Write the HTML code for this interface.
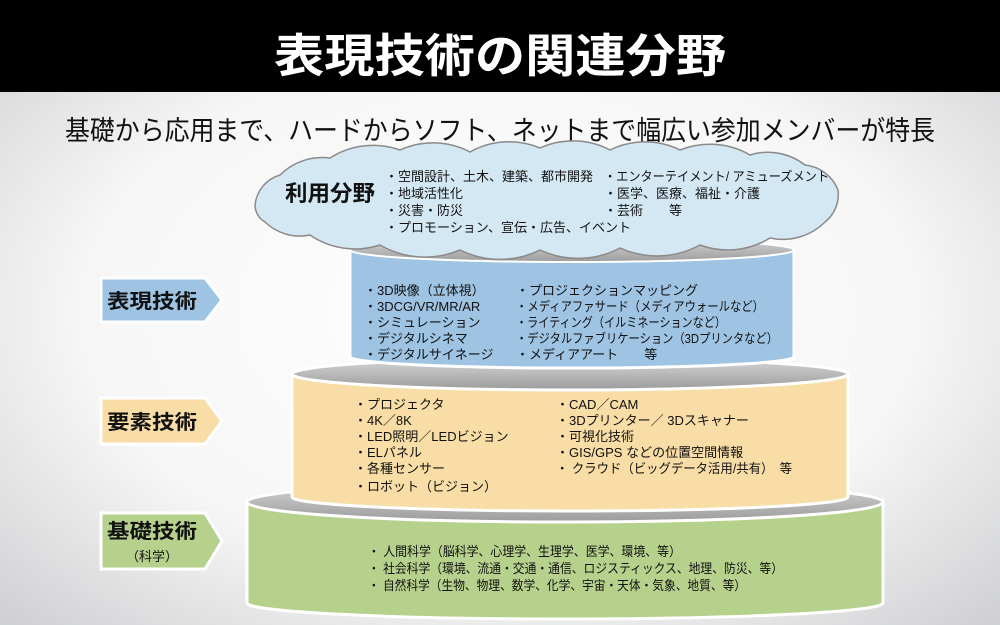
<!DOCTYPE html>
<html><head><meta charset="utf-8"><style>
html,body{margin:0;padding:0;width:1000px;height:625px;overflow:hidden}
svg{display:block}
text{font-family:"Liberation Sans","Noto Sans CJK JP",sans-serif;fill:#111}
</style></head><body>
<svg width="1000" height="625" viewBox="0 0 1000 625" xmlns="http://www.w3.org/2000/svg">
<defs>
<radialGradient id="bg" cx="0.5" cy="0.5" r="0.7">
<stop offset="0" stop-color="#ffffff"/><stop offset="0.6" stop-color="#f6f6f6"/><stop offset="1" stop-color="#cfd0d2"/>
</radialGradient>
<linearGradient id="gr" x1="0" y1="0" x2="0" y2="1"><stop offset="0" stop-color="#d6d6d6"/><stop offset="1" stop-color="#9c9c9c"/></linearGradient>
</defs>
<rect width="1000" height="625" fill="url(#bg)"/>
<rect width="1000" height="92" fill="#000"/>
<text x="500" y="72" text-anchor="middle" font-size="46" font-weight="bold" style="fill:#fff" textLength="452" lengthAdjust="spacingAndGlyphs">表現技術の関連分野</text>
<text x="500" y="140" text-anchor="middle" font-size="27" textLength="870" lengthAdjust="spacingAndGlyphs">基礎から応用まで、ハードからソフト、ネットまで幅広い参加メンバーが特長</text>

<!-- green tier -->
<path d="M247,500 L247,603 A318,16 0 0 0 883,603 L883,500 Z" fill="#b6d18c" stroke="#fff" stroke-width="3"/>
<ellipse cx="565" cy="502" rx="318" ry="20" fill="url(#gr)" stroke="#fff" stroke-width="3"/>
<!-- orange tier -->
<path d="M292,372 L292,497 A278,14 0 0 0 848,497 L848,372 Z" fill="#f8dda6" stroke="#fff" stroke-width="3"/>
<ellipse cx="570" cy="374" rx="278" ry="16" fill="url(#gr)" stroke="#fff" stroke-width="3"/>
<!-- blue tier -->
<path d="M350,250 L350,357 A222,11 0 0 0 794,357 L794,250 Z" fill="#9fc4e3" stroke="#fff" stroke-width="3"/>
<ellipse cx="572" cy="250" rx="222" ry="12" fill="url(#gr)" stroke="#fff" stroke-width="2"/>
<!-- cloud -->
<path d="M255,205 A35,35 0 0 1 280,175 A60,60 0 0 1 330,158 A80,80 0 0 1 400,150 A80,80 0 0 1 470,152 A80,80 0 0 1 540,148 A80,80 0 0 1 610,150 A80,80 0 0 1 680,150 A80,80 0 0 1 750,155 A60,60 0 0 1 805,165 A40,40 0 0 1 838,190 A35,35 0 0 1 825,222 A60,60 0 0 1 770,238 A80,80 0 0 1 700,245 A90,90 0 0 1 620,248 A90,90 0 0 1 540,250 A90,90 0 0 1 460,250 A90,90 0 0 1 380,245 A80,80 0 0 1 310,235 A50,50 0 0 1 265,222 A20,20 0 0 1 255,205 Z" fill="#d4e8f3" stroke="#8a8a8a" stroke-width="1.5"/>

<text x="285" y="201" font-size="22" font-weight="bold" textLength="90" lengthAdjust="spacingAndGlyphs">利用分野</text>
<g font-size="13">
<text x="385" y="181">・空間設計、土木、建築、都市開発</text>
<text x="385" y="198">・地域活性化</text>
<text x="385" y="215">・災害・防災</text>
<text x="385" y="232">・プロモーション、宣伝・広告、イベント</text>
<text x="604" y="181" textLength="225" lengthAdjust="spacingAndGlyphs">・エンターテイメント/ アミューズメント</text>
<text x="604" y="198">・医学、医療、福祉・介護</text>
<text x="604" y="215">・芸術　　等</text>

<text x="364" y="295">・3D映像（立体視）</text>
<text x="364" y="311">・3DCG/VR/MR/AR</text>
<text x="364" y="327">・シミュレーション</text>
<text x="364" y="343">・デジタルシネマ</text>
<text x="364" y="359">・デジタルサイネージ</text>
<text x="516" y="295">・プロジェクションマッピング</text>
<text x="516" y="311" textLength="248" lengthAdjust="spacingAndGlyphs">・メディアファサード（メディアウォールなど）</text>
<text x="516" y="327" textLength="210" lengthAdjust="spacingAndGlyphs">・ライティング（イルミネーションなど）</text>
<text x="516" y="343" textLength="262" lengthAdjust="spacingAndGlyphs">・デジタルファブリケーション（3Dプリンタなど）</text>
<text x="516" y="359">・メディアアート　　等</text>

<text x="354" y="409">・プロジェクタ</text>
<text x="354" y="425">・4K／8K</text>
<text x="354" y="441">・LED照明／LEDビジョン</text>
<text x="354" y="457">・ELパネル</text>
<text x="354" y="473">・各種センサー</text>
<text x="354" y="491">・ロボット（ビジョン）</text>
<text x="556" y="409">・CAD／CAM</text>
<text x="556" y="425">・3Dプリンター／ 3Dスキャナー</text>
<text x="556" y="441">・可視化技術</text>
<text x="556" y="457">・GIS/GPS などの位置空間情報</text>
<text x="556" y="473" textLength="236" lengthAdjust="spacingAndGlyphs">・ クラウド（ビッグデータ活用/共有）　等</text>

<text x="368" y="556" textLength="313" lengthAdjust="spacingAndGlyphs">・ 人間科学（脳科学、心理学、生理学、医学、環境、等）</text>
<text x="368" y="573" textLength="415" lengthAdjust="spacingAndGlyphs">・ 社会科学（環境、流通・交通・通信、ロジスティックス、地理、防災、等）</text>
<text x="368" y="590" textLength="378" lengthAdjust="spacingAndGlyphs">・ 自然科学（生物、物理、数学、化学、宇宙・天体・気象、地質、等）</text>
</g>

<!-- labels -->
<path d="M101,278 L205,278 L222,300 L205,322 L101,322 Z" fill="#9fc4e3" stroke="#fff" stroke-width="3"/>
<text x="107" y="308" font-size="20" font-weight="bold" textLength="90" lengthAdjust="spacingAndGlyphs">表現技術</text>
<path d="M101,398 L205,398 L222,421 L205,444 L101,444 Z" fill="#f8dda6" stroke="#fff" stroke-width="3"/>
<text x="107" y="429" font-size="20" font-weight="bold" textLength="90" lengthAdjust="spacingAndGlyphs">要素技術</text>
<path d="M101,513 L205,513 L222,541 L205,569 L101,569 Z" fill="#b6d18c" stroke="#fff" stroke-width="3"/>
<text x="107" y="538" font-size="20" font-weight="bold" textLength="90" lengthAdjust="spacingAndGlyphs">基礎技術</text>
<text x="152" y="561" font-size="13" text-anchor="middle">（科学）</text>
</svg>
</body></html>
